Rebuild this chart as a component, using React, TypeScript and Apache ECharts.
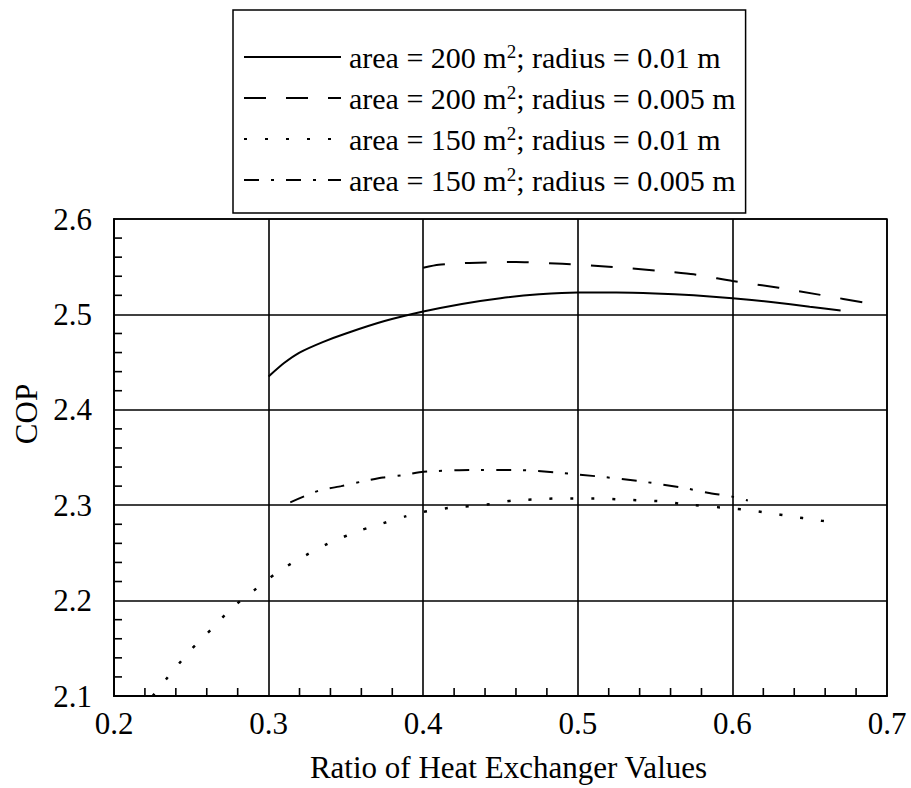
import React, { useEffect, useRef } from "react";
import * as echarts from "echarts";

const FONT = '"Liberation Serif", "Times New Roman", serif';

const seriesNames = [
  "area = 200 m²; radius = 0.01 m",
  "area = 200 m²; radius = 0.005 m",
  "area = 150 m²; radius = 0.01 m",
  "area = 150 m²; radius = 0.005 m",
];

const xTicks = [0.2, 0.3, 0.4, 0.5, 0.6, 0.7];
const yTicks = [2.1, 2.2, 2.3, 2.4, 2.5, 2.6];
const xMinorTicks = [
  0.22, 0.24, 0.26, 0.28, 0.32, 0.34, 0.36, 0.38, 0.42, 0.44, 0.46, 0.48,
  0.52, 0.54, 0.56, 0.58, 0.62, 0.64, 0.66, 0.68,
];
const yMinorTicks = [
  2.12, 2.14, 2.16, 2.18, 2.22, 2.24, 2.26, 2.28, 2.32, 2.34, 2.36, 2.38,
  2.42, 2.44, 2.46, 2.48, 2.52, 2.54, 2.56, 2.58,
];

// area = 200 m², radius = 0.01 m (solid)
const area200r010: [number, number][] = [
  [0.3, 2.435], [0.31, 2.449], [0.32, 2.46], [0.335, 2.471], [0.35, 2.48],
  [0.375, 2.493], [0.4, 2.503], [0.425, 2.511], [0.45, 2.517], [0.475, 2.521],
  [0.5, 2.523], [0.525, 2.523], [0.55, 2.522], [0.575, 2.52], [0.6, 2.517],
  [0.625, 2.513], [0.65, 2.508], [0.67, 2.504],
];

// area = 200 m², radius = 0.005 m (dashed)
const area200r005: [number, number][] = [
  [0.4, 2.549], [0.41, 2.552], [0.43, 2.554], [0.46, 2.555], [0.49, 2.553],
  [0.52, 2.55], [0.55, 2.546], [0.575, 2.542], [0.6, 2.535], [0.63, 2.528],
  [0.655, 2.521], [0.69, 2.511],
];

// area = 150 m², radius = 0.01 m (dotted)
const area150r010: [number, number][] = [
  [0.225, 2.1], [0.238, 2.126], [0.25, 2.149], [0.263, 2.17], [0.276, 2.192],
  [0.29, 2.21], [0.305, 2.229], [0.319, 2.243], [0.34, 2.261], [0.36, 2.274],
  [0.374, 2.281], [0.388, 2.288], [0.4, 2.293], [0.416, 2.297], [0.443, 2.301],
  [0.458, 2.305], [0.472, 2.306], [0.486, 2.307], [0.5, 2.307], [0.514, 2.307],
  [0.528, 2.306], [0.541, 2.305], [0.555, 2.304], [0.569, 2.301], [0.597, 2.297],
  [0.61, 2.295], [0.623, 2.292], [0.639, 2.288], [0.652, 2.285], [0.665, 2.282],
];

// area = 150 m², radius = 0.005 m (dash-dot)
const area150r005: [number, number][] = [
  [0.314, 2.303], [0.332, 2.315], [0.347, 2.32], [0.361, 2.325], [0.374, 2.329],
  [0.389, 2.332], [0.4, 2.335], [0.43, 2.337], [0.46, 2.337], [0.488, 2.334],
  [0.514, 2.33], [0.541, 2.325], [0.569, 2.318], [0.584, 2.313], [0.6, 2.309],
  [0.61, 2.305],
];

const seriesData = [area200r010, area200r005, area150r010, area150r005];
const dashTypes: any[] = ["solid", [22, 20], [3, 18], [15, 12, 3, 12]];

export default function App() {
  const ref = useRef<HTMLDivElement>(null);
  useEffect(() => {
    document.body.style.margin = "0";
    const chart = echarts.init(ref.current!, null, { renderer: "svg" });
    const axisText = { fontFamily: FONT, fontSize: 31, color: "#000" };
    const xMin = xTicks[0];
    const xMax = xTicks[xTicks.length - 1];
    const yMin = yTicks[0];
    const yMax = yTicks[yTicks.length - 1];
    const TICK = 8;
    const tickSeries = (data: number[][], vertical: boolean) => ({
      type: "custom",
      silent: true,
      clip: false,
      z: 10,
      data,
      encode: { x: 0, y: 1 },
      renderItem: (_p: any, api: any) => {
        const pt = api.coord([api.value(0), api.value(1)]);
        return {
          type: "line",
          shape: vertical
            ? { x1: pt[0], y1: pt[1], x2: pt[0], y2: pt[1] - TICK }
            : { x1: pt[0], y1: pt[1], x2: pt[0] + TICK, y2: pt[1] },
          style: { stroke: "#000", lineWidth: 1.6 },
        };
      },
    });
    const lineSeries = seriesNames.map((name, i) => ({
      name,
      type: "line",
      data: seriesData[i],
      symbol: "none",
      smooth: 0.2,
      lineStyle: { color: "#000", width: i === 2 ? 2.5 : 2, type: dashTypes[i] },
      itemStyle: { color: "#000" },
    }));
    chart.setOption({
      animation: false,
      backgroundColor: "#fff",
      grid: {
        left: 114,
        right: 24,
        top: 219,
        bottom: 89,
        show: true,
        borderColor: "#000",
        borderWidth: 1.5,
      },
      legend: {
        left: 233,
        top: 10,
        orient: "vertical",
        selectedMode: false,
        padding: [32, 10, 18, 10],
        itemWidth: 97,
        itemHeight: 14,
        itemGap: 11,
        borderColor: "#000",
        borderWidth: 1.5,
        itemStyle: { opacity: 0 },
        data: seriesNames,
        formatter: (name: string) => name.replace("²", "{sup|2}"),
        textStyle: {
          fontFamily: FONT,
          fontSize: 30,
          color: "#000",
          lineHeight: 30,
          padding: [0, 0, 0, 3],
          rich: {
            sup: {
              fontFamily: FONT,
              fontSize: 19,
              color: "#000",
              lineHeight: 19,
              verticalAlign: "top",
            },
          },
        },
      },
      xAxis: {
        type: "value",
        min: xMin,
        max: xMax,
        interval: 0.1,
        name: "Ratio of Heat Exchanger Values",
        nameLocation: "middle",
        nameGap: 56,
        nameTextStyle: { ...axisText, padding: [0, 0, 0, 16] },
        axisLine: { show: true, lineStyle: { color: "#000", width: 2 } },
        axisTick: { show: false },
        axisLabel: {
          ...axisText,
          margin: 12,
          formatter: (v: number) => v.toFixed(1),
        },
        splitLine: { show: true, lineStyle: { color: "#000", width: 1.6 } },
      },
      yAxis: {
        type: "value",
        min: yMin,
        max: yMax,
        interval: 0.1,
        axisLine: { show: true, lineStyle: { color: "#000", width: 2 } },
        axisTick: { show: false },
        axisLabel: {
          ...axisText,
          margin: 22,
          formatter: (v: number) => v.toFixed(1),
        },
        splitLine: { show: true, lineStyle: { color: "#000", width: 1.6 } },
      },
      graphic: [
        {
          type: "text",
          x: 26,
          y: 414,
          rotation: Math.PI / 2,
          style: {
            text: "COP",
            fontFamily: FONT,
            fontSize: 31,
            fill: "#000",
            align: "center",
            verticalAlign: "middle",
          },
        },
      ],
      series: [
        ...lineSeries,
        tickSeries(xMinorTicks.map((v) => [v, yMin]), true),
        tickSeries(yMinorTicks.map((v) => [xMin, v]), false),
      ],
    });
    return () => chart.dispose();
  }, []);
  return <div ref={ref} style={{ width: 911, height: 788 }} />;
}
